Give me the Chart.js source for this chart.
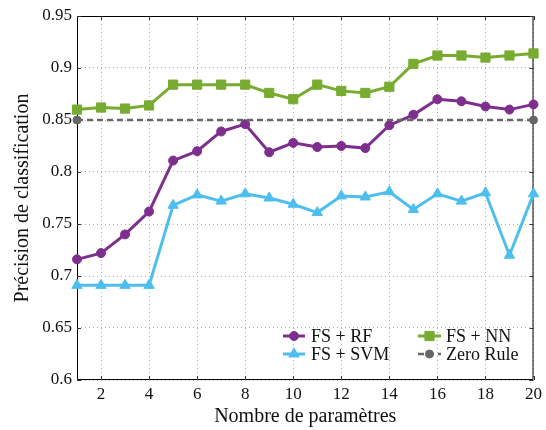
<!DOCTYPE html>
<html>
<head>
<meta charset="utf-8">
<script src="https://cdn.jsdelivr.net/npm/chart.js@4/dist/chart.umd.min.js"></script>
<style>
  html, body { margin: 0; padding: 0; background: #fff; }
  #wrap { position: relative; width: 546px; height: 430px; }
</style>
</head>
<body>
<div id="wrap"><canvas id="c" width="546" height="430"></canvas></div>
<script>
// ---- data ----
const params = [1,2,3,4,5,6,7,8,9,10,11,12,13,14,15,16,17,18,19,20];
const fsRF  = [0.716,0.722,0.740,0.762,0.811,0.820,0.839,0.846,0.819,0.828,0.824,0.825,0.823,0.845,0.855,0.870,0.868,0.863,0.860,0.865];
const fsSVM = [0.691,0.691,0.691,0.691,0.768,0.778,0.772,0.779,0.775,0.769,0.761,0.777,0.776,0.781,0.764,0.779,0.772,0.780,0.720,0.779];
const fsNN  = [0.860,0.862,0.861,0.864,0.884,0.884,0.884,0.884,0.876,0.870,0.884,0.878,0.876,0.882,0.904,0.912,0.912,0.910,0.912,0.914];
const zeroRuleX = [1, 20];
const zeroRule  = [0.85, 0.85];
const seriesNames = ['FS + RF', 'FS + SVM', 'FS + NN', 'Zero Rule'];
const xTicks = [2,4,6,8,10,12,14,16,18,20];
const yTicks = [0.6,0.65,0.7,0.75,0.8,0.85,0.9,0.95];
const xTitle = 'Nombre de paramètres';
const yTitle = 'Précision de classification';

const FONT = '"Liberation Serif"';
const cRF = '#7E2F8E', cSVM = '#4DBEEE', cNN = '#77AC30', cZR = '#666666';

const pts = (xs, ys) => xs.map((x, i) => ({x: x, y: ys[i]}));

const frame = {
  id: 'frame',
  beforeDatasetsDraw(chart) {
    const {ctx, chartArea: a, scales} = chart;
    ctx.save();
    ctx.strokeStyle = '#000';
    ctx.lineWidth = 1;
    ctx.beginPath();
    ctx.rect(a.left + 0.5, a.top + 0.5, a.right - a.left - 1, a.bottom - a.top - 1);
    ctx.stroke();
    ctx.strokeStyle = '#333';
    ctx.beginPath();
    xTicks.forEach(v => {
      const x = Math.round(scales.x.getPixelForValue(v)) + 0.5;
      ctx.moveTo(x, a.bottom); ctx.lineTo(x, a.bottom - 4);
      ctx.moveTo(x, a.top); ctx.lineTo(x, a.top + 4);
    });
    yTicks.forEach(v => {
      const y = Math.round(scales.y.getPixelForValue(v)) + 0.5;
      ctx.moveTo(a.left, y); ctx.lineTo(a.left + 4, y);
      ctx.moveTo(a.right, y); ctx.lineTo(a.right - 4, y);
    });
    ctx.stroke();
    ctx.restore();
  },
  afterDraw(chart) {
    const {ctx} = chart;
    const ds = chart.data.datasets;
    const items = [
      {i: 0, x0: 283, x1: 305, tx: 311, y: 336},
      {i: 2, x0: 418, x1: 441, tx: 446, y: 336},
      {i: 1, x0: 283, x1: 305, tx: 311, y: 354},
      {i: 3, x0: 418, x1: 441, tx: 446, y: 354}
    ];
    ctx.save();
    items.forEach(it => {
      const d = ds[it.i];
      ctx.strokeStyle = d.borderColor;
      ctx.lineWidth = d.borderWidth;
      ctx.setLineDash(d.borderDash || []);
      ctx.beginPath();
      ctx.moveTo(it.x0, it.y); ctx.lineTo(it.x1, it.y);
      ctx.stroke();
      ctx.setLineDash([]);
      const r = Array.isArray(d.pointRadius) ? d.pointRadius[0] : d.pointRadius;
      ctx.fillStyle = d.pointBackgroundColor;
      ctx.strokeStyle = d.pointBorderColor;
      ctx.lineWidth = 1;
      Chart.helpers.drawPoint(ctx, {pointStyle: d.pointStyle, radius: r, rotation: 0, borderWidth: 1}, (it.x0 + it.x1) / 2, it.y);
      ctx.fillStyle = '#111';
      ctx.font = '18px ' + FONT;
      ctx.textBaseline = 'middle';
      ctx.textAlign = 'left';
      ctx.fillText(seriesNames[it.i], it.tx, it.y + 1);
    });
    ctx.restore();
  }
};

const zrRadius = zeroRuleX.map(() => 4);

Chart.defaults.font.family = FONT;
new Chart(document.getElementById('c'), {
  type: 'line',
  data: {
    datasets: [
      {label: seriesNames[0], data: pts(params, fsRF), borderColor: cRF, backgroundColor: cRF,
       pointBackgroundColor: cRF, pointBorderColor: cRF, borderWidth: 3, pointStyle: 'circle',
       pointRadius: 4.5, pointBorderWidth: 1, clip: false, order: 2},
      {label: seriesNames[1], data: pts(params, fsSVM), borderColor: cSVM, backgroundColor: cSVM,
       pointBackgroundColor: cSVM, pointBorderColor: cSVM, borderWidth: 3, pointStyle: 'triangle',
       pointRadius: 6, pointBorderWidth: 1, clip: false, order: 3},
      {label: seriesNames[2], data: pts(params, fsNN), borderColor: cNN, backgroundColor: cNN,
       pointBackgroundColor: cNN, pointBorderColor: cNN, borderWidth: 3, pointStyle: 'rect',
       pointRadius: 6.5, pointBorderWidth: 1, clip: false, order: 1},
      {label: seriesNames[3], data: pts(zeroRuleX, zeroRule), borderColor: cZR, backgroundColor: cZR,
       pointBackgroundColor: cZR, pointBorderColor: cZR, borderWidth: 2.5, borderDash: [6, 4],
       pointStyle: 'circle', pointRadius: zrRadius, pointBorderWidth: 1, clip: false, order: 0}
    ]
  },
  options: {
    responsive: false,
    animation: false,
    layout: {padding: {top: 16, right: 8, left: 0, bottom: 0}},
    plugins: {legend: {display: false}, tooltip: {enabled: false}},
    elements: {line: {tension: 0}},
    scales: {
      x: {
        type: 'linear', min: 1, max: 20,
        afterFit(s) { s.height = 50; },
        afterBuildTicks(s) { s.ticks = xTicks.map(v => ({value: v})); },
        grid: {color: '#b0b0b0', lineWidth: 1, drawTicks: false},
        border: {display: false, dash: [1, 3]},
        ticks: {padding: 4, color: '#111', font: {family: FONT, size: 17}, maxRotation: 0},
        title: {display: true, text: xTitle, color: '#111', font: {family: FONT, size: 20}, padding: {top: 0, bottom: 1}}
      },
      y: {
        min: 0.6, max: 0.95,
        afterFit(s) { s.width = 77; },
        afterBuildTicks(s) { s.ticks = yTicks.map(v => ({value: v})); },
        grid: {color: '#b0b0b0', lineWidth: 1, drawTicks: false},
        border: {display: false, dash: [1, 3]},
        ticks: {padding: 5, color: '#111', font: {family: FONT, size: 17},
                callback: v => String(+v.toFixed(2))},
        title: {display: true, text: yTitle, color: '#111', font: {family: FONT, size: 20}, padding: {top: 11, bottom: 0}}
      }
    }
  },
  plugins: [frame]
});
</script>
</body>
</html>
